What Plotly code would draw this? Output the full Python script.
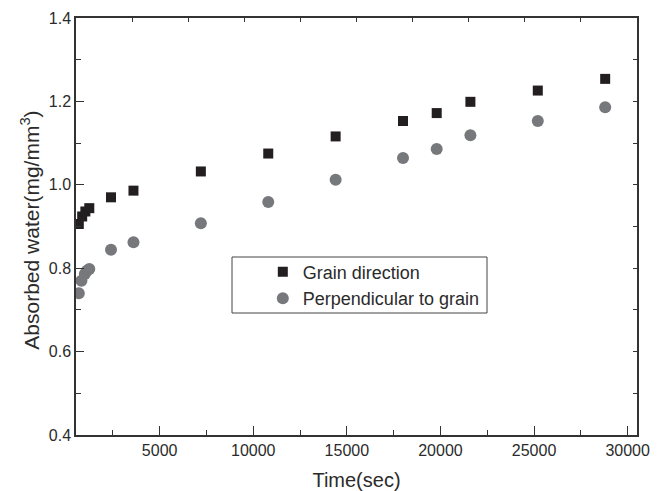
import plotly.graph_objects as go

# Water uptake measurements
grain_time = [680, 860, 1030, 1240, 2400, 3600, 7200, 10800, 14400, 18000, 19800, 21600, 25200, 28800]
grain_water = [0.906, 0.924, 0.936, 0.944, 0.970, 0.986, 1.032, 1.075, 1.116, 1.153, 1.172, 1.199, 1.226, 1.254]

perp_time = [680, 820, 1000, 1120, 1240, 2400, 3600, 7200, 10800, 14400, 18000, 19800, 21600, 25200, 28800]
perp_water = [0.740, 0.770, 0.786, 0.794, 0.798, 0.844, 0.862, 0.908, 0.959, 1.012, 1.064, 1.086, 1.119, 1.153, 1.186]

x_ticks = [5000, 10000, 15000, 20000, 25000, 30000]
y_ticks = [0.4, 0.6, 0.8, 1.0, 1.2, 1.4]

FONT = "Liberation Sans, Arial, sans-serif"
AX = "#333333"
TXT = "#2b2b2b"

fig = go.Figure()
fig.add_trace(go.Scatter(
    x=grain_time, y=grain_water, mode="markers", name="Grain direction",
    marker=dict(symbol="square", size=10, color="#231f20"),
))
fig.add_trace(go.Scatter(
    x=perp_time, y=perp_water, mode="markers", name="Perpendicular to grain",
    marker=dict(symbol="circle", size=12, color="#77787b"),
))
# empty trace so the top/right frame axes get drawn
fig.add_trace(go.Scatter(x=[None], y=[None], xaxis="x2", yaxis="y2",
                         showlegend=False, hoverinfo="skip"))

fig.update_layout(
    width=663, height=491,
    margin=dict(l=76, r=26, t=18, b=56),
    paper_bgcolor="white", plot_bgcolor="white",
    font=dict(family=FONT, color=TXT),
    showlegend=True,
    legend=dict(x=0.333, y=0.435, xanchor="left", yanchor="top",
                bgcolor="rgba(0,0,0,0)", borderwidth=0,
                font=dict(size=18, family=FONT, color=TXT),
                tracegroupgap=0),
    xaxis=dict(
        range=[530, 30500], tickvals=x_ticks, ticktext=[str(v) for v in x_ticks],
        ticks="inside", ticklen=9, tickwidth=1.2, tickcolor=AX,
        minor=dict(tickvals=[2500, 7500, 12500, 17500, 22500, 27500],
                   ticks="inside", ticklen=5, tickwidth=1.2, tickcolor=AX),
        showline=True, linecolor=AX, linewidth=1.5,
        showgrid=False, zeroline=False, automargin=False,
        tickfont=dict(size=16, family=FONT, color=TXT),
        title=dict(text="Time(sec)", font=dict(size=20, family=FONT, color=TXT)),
    ),
    yaxis=dict(
        range=[0.4, 1.4], tickvals=y_ticks, ticktext=["%.1f" % v for v in y_ticks],
        ticks="inside", ticklen=8, tickwidth=1.2, tickcolor=AX,
        minor=dict(tickvals=[0.5, 0.7, 0.9, 1.1, 1.3],
                   ticks="inside", ticklen=5, tickwidth=1.2, tickcolor=AX),
        showline=True, linecolor=AX, linewidth=1.5,
        showgrid=False, zeroline=False, automargin=False,
        tickfont=dict(size=16, family=FONT, color=TXT),
    ),
    xaxis2=dict(
        overlaying="x", side="top", range=[0, 1],
        tickvals=[0.1, 0.2, 0.3, 0.4, 0.5, 0.6, 0.7, 0.8, 0.9],
        ticks="inside", ticklen=4, tickwidth=1, tickcolor=AX,
        showticklabels=False, showline=True, linecolor=AX, linewidth=1.5,
        showgrid=False, zeroline=False, automargin=False,
    ),
    yaxis2=dict(
        overlaying="y", side="right", range=[0, 1],
        tickvals=[0.1, 0.2, 0.3, 0.4, 0.5, 0.6, 0.7, 0.8, 0.9],
        ticks="inside", ticklen=4, tickwidth=1, tickcolor=AX,
        showticklabels=False, showline=True, linecolor=AX, linewidth=1.5,
        showgrid=False, zeroline=False, automargin=False,
    ),
    annotations=[dict(text="Absorbed water(mg/mm<sup>3</sup>)", textangle=-90,
                      xref="paper", yref="paper", x=(30 - 76) / 561, y=0.49,
                      xanchor="center", yanchor="middle", showarrow=False,
                      font=dict(size=21, family=FONT, color=TXT))],
    shapes=[dict(type="rect", xref="paper", yref="paper",
                 x0=(232 - 76) / 561, x1=(487 - 76) / 561,
                 y0=1 - (313 - 18) / 417, y1=1 - (257 - 18) / 417,
                 line=dict(color="#444444", width=1), fillcolor="rgba(0,0,0,0)")],
)

fig.write_html("out.html")
